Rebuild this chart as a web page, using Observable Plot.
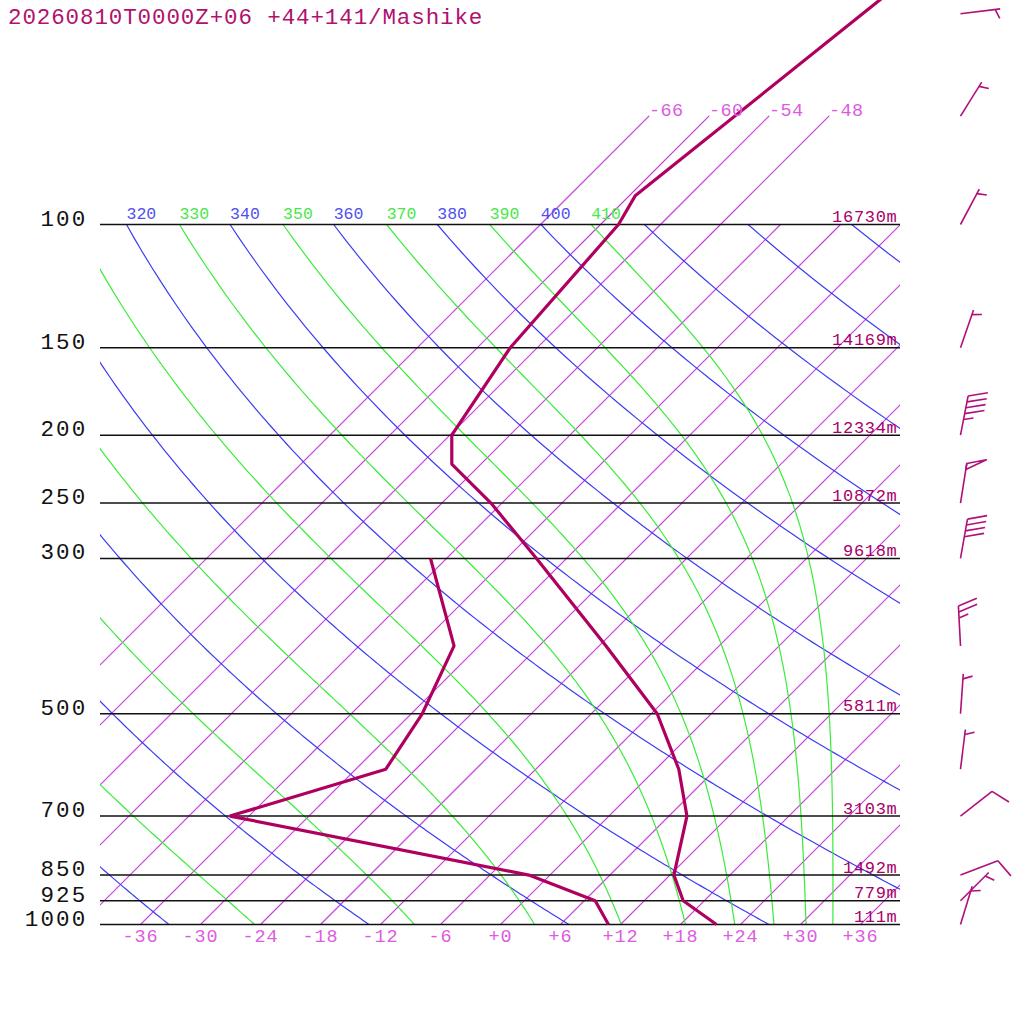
<!DOCTYPE html>
<html><head><meta charset="utf-8">
<script src="https://cdn.jsdelivr.net/npm/d3@7"></script>
<script src="https://cdn.jsdelivr.net/npm/@observablehq/plot@0.6"></script>
<style>
html,body{margin:0;padding:0;background:#fff;overflow:hidden}
#wrap{position:relative;width:1024px;height:1024px}
#title{position:absolute;left:8px;top:6px;font-family:"Liberation Mono",monospace;font-size:22.5px;line-height:1.133;letter-spacing:0.9px;color:#b0106e;white-space:pre;z-index:2}
#chart{position:absolute;left:0;top:0}
</style></head><body>
<div id="wrap"><div id="title">20260810T0000Z+06 +44+141/Mashike</div><div id="chart"></div></div>
<script>
// ---------------- data ----------------
const levels  = [100, 150, 200, 250, 300, 500, 700, 850, 925, 1000];
const heights = [16730, 14169, 12334, 10872, 9618, 5811, 3103, 1492, 779, 111];

const tempP = [1000, 925, 850, 700, 600, 500, 400, 300, 250, 220, 200, 150, 100, 91, 30];
const tempT = [21.6, 15.9, 12.4, 7.8, 2.3, -5.4, -17.3, -33.0, -43.1, -50.9, -53.8, -56.7, -58.2, -59.4, -51.0];

const dewP = [1000, 925, 850, 700, 600, 500, 400, 300];
const dewT = [10.8, 7.1, -2.1, -37.9, -27.0, -28.9, -32.5, -43.6];

const windP   = [50, 70, 100, 150, 200, 250, 300, 400, 500, 600, 700, 850, 925, 1000];
const windDir = [83, 32, 28, 19, 11, 9, 10, 357, 4, 7, 52, 69, 45, 17];
const windSpd = [5, 5, 5, 5, 45, 50, 40, 25, 5, 5, 10, 10, 5, 5];

const isoT       = [-66, -60, -54, -48, -42, -36, -30, -24, -18, -12, -6, 0, 6, 12, 18, 24, 30, 36];
const isoTopT    = [-66, -60, -54, -48];
const tempTicks  = [-36, -30, -24, -18, -12, -6, 0, 6, 12, 18, 24, 30, 36];
const thetaDry   = [240, 260, 280, 300, 320, 340, 360, 380, 400, 420, 440, 460];
const thetaMoist = [250, 270, 290, 310, 330, 350, 370, 390, 410];
const thetaLabels = [320, 330, 340, 350, 360, 370, 380, 390, 400, 410];

// ---------------- diagram geometry / thermodynamics ----------------
const SKEW = 70;   // degrees of skew per decade of pressure (45-degree isotherms)
const skewX = (T, p) => T + SKEW * Math.log10(1000 / p);
const K = 273.15, KAPPA = 0.2857;
const dryT = (th, p) => th * Math.pow(p / 1000, KAPPA) - K;
const es = Tc => 6.112 * Math.exp(17.67 * Tc / (Tc + 243.5));
function thetaEsat(TK, p) {
  const e = es(TK - K), r = 622 * e / (p - e);
  return TK * Math.pow(1000 / p, 0.2854 * (1 - 0.00028 * r)) *
         Math.exp((3.376 / TK - 0.00254) * r * (1 + 0.00081 * r));
}
function moistT(the, p) {
  let lo = 150, hi = 345;
  while (es(hi - K) > 0.4 * p) hi -= 1;
  for (let i = 0; i < 60; i++) {
    const m = (lo + hi) / 2;
    if (thetaEsat(m, p) > the) hi = m; else lo = m;
  }
  return (lo + hi) / 2 - K;
}
const curveP = d3.range(1000, 99, -5);

const isoLines = isoT.flatMap(T => [1000, 100].map(p => ({T, p, x: skewX(T, p)})));
const isoTop = isoTopT.flatMap(T => [100, 70].map(p => ({T, p, x: skewX(T, p)})));
const dryLines = thetaDry.flatMap(th => curveP.map(p => ({th, p, x: skewX(dryT(th, p), p)})));
const moistLines = thetaMoist.flatMap(th => curveP.map(p => ({th, p, x: skewX(moistT(th, p), p)})));
const thetaLab = thetaLabels.map(th => ({th, x: th % 20 === 0 ? skewX(dryT(th, 100), 100) : skewX(moistT(th, 100), 100)}));

const temp = tempP.map((p, i) => ({p, x: skewX(tempT[i], p)}));
const dew = dewP.map((p, i) => ({p, x: skewX(dewT[i], p)}));

// ---------------- wind barbs ----------------
const BARB_X = 46;                 // barb column (skewed units)
const PX_X = 10, PX_DEC = 700;     // pixels per degree / per pressure decade
const toData = (p0, dx, dy) => [BARB_X + dx / PX_X, p0 * Math.pow(10, dy / PX_DEC)];
const barbSegs = [], pennants = [];
windP.forEach((p0, i) => {
  const a = windDir[i] * Math.PI / 180, al = 70 * Math.PI / 180;
  const u = [Math.sin(a), -Math.cos(a)];
  const b = [u[0] * Math.cos(al) - u[1] * Math.sin(al), u[0] * Math.sin(al) + u[1] * Math.cos(al)];
  const L = 40, FULL = 20, HALF = 10, GAP = 6;
  const seg = (ax, ay, bx, by) => {
    const [x1, y1] = toData(p0, ax, ay), [x2, y2] = toData(p0, bx, by);
    barbSegs.push({x1, y1, x2, y2});
  };
  seg(0, 0, L * u[0], L * u[1]);
  let s = Math.round(windSpd[i] / 5) * 5;
  const nP = Math.floor(s / 50); s -= nP * 50;
  const nF = Math.floor(s / 10); s -= nF * 10;
  const nH = s >= 5 ? 1 : 0;
  let pos = L;
  for (let k = 0; k < nP; k++) {
    const pts = [[pos * u[0], pos * u[1]], [pos * u[0] + FULL * b[0], pos * u[1] + FULL * b[1]],
                 [(pos - GAP) * u[0], (pos - GAP) * u[1]], [pos * u[0], pos * u[1]]];
    pts.forEach(([dx, dy]) => { const [x, y] = toData(p0, dx, dy); pennants.push({id: i * 10 + k, x, y}); });
    pos -= GAP + 1;
  }
  for (let k = 0; k < nF; k++) {
    seg(pos * u[0], pos * u[1], pos * u[0] + FULL * b[0], pos * u[1] + FULL * b[1]);
    pos -= GAP;
  }
  if (nH) {
    if (nP + nF === 0) pos = L - 5;
    seg(pos * u[0], pos * u[1], pos * u[0] + HALF * b[0], pos * u[1] + HALF * b[1]);
  }
});

// ---------------- colours ----------------
const C_ISO = "#c83cdc", C_ISOLAB = "#dc5ce0", C_DRY = "#3c3cf4", C_MOIST = "#3aec3a";
const C_SND = "#b0005f", C_HGT = "#a8006a", C_BARB = "#b0107a";
const FONT = "Liberation Mono";
const signed = d => (d < 0 ? "-" : "+") + Math.abs(d);

const chart = Plot.plot({
  width: 1024, height: 1024,
  marginLeft: 100, marginRight: 124, marginTop: 224, marginBottom: 100,
  x: {domain: [-40, 40], axis: null},
  y: {type: "log", domain: [1000, 100], axis: null},
  marks: [
    Plot.line(isoLines, {x: "x", y: "p", z: "T", stroke: C_ISO, strokeWidth: 1.2, clip: true}),
    Plot.line(isoTop, {x: "x", y: "p", z: "T", stroke: C_ISO, strokeWidth: 1.2}),
    Plot.line(dryLines, {x: "x", y: "p", z: "th", stroke: C_DRY, strokeWidth: 1.2, clip: true}),
    Plot.line(moistLines, {x: "x", y: "p", z: "th", stroke: C_MOIST, strokeWidth: 1.2, clip: true}),
    Plot.ruleY(levels, {stroke: "#111", strokeWidth: 1.5}),
    Plot.line(dew, {x: "x", y: "p", stroke: C_SND, strokeWidth: 3.2, strokeLinejoin: "miter", strokeLinecap: "butt"}),
    Plot.line(temp, {x: "x", y: "p", stroke: C_SND, strokeWidth: 3.2, strokeLinejoin: "miter", strokeLinecap: "butt"}),
    // text marks (order matters for letter spacing below)
    Plot.text(tempTicks, {x: d => d, frameAnchor: "bottom", dy: 17, text: signed, fill: C_ISOLAB, fontSize: 18.5, fontFamily: FONT}),
    Plot.text(levels, {y: d => d, frameAnchor: "left", textAnchor: "end", dx: -13, lineAnchor: "bottom", dy: 1, text: d => String(d), fill: "#111", fontSize: 22.5, fontFamily: FONT}),
    Plot.text(levels, {y: d => d, frameAnchor: "right", textAnchor: "end", dx: -3, lineAnchor: "bottom", dy: -2.5, text: (d, i) => heights[i] + "m", fill: C_HGT, fontSize: 17, fontFamily: FONT}),
    Plot.text(thetaLab, {x: "x", y: () => 100, textAnchor: "start", lineAnchor: "bottom", dy: -5.5, text: d => String(d.th), fill: d => d.th % 20 === 0 ? "#5050f0" : "#48e848", fontSize: 16.5, fontFamily: FONT}),
    Plot.text(isoTopT, {x: d => skewX(d, 70), y: () => 70, textAnchor: "start", lineAnchor: "bottom", text: signed, fill: C_ISOLAB, fontSize: 18.5, fontFamily: FONT}),
    // wind barbs
    Plot.link(barbSegs, {x1: "x1", y1: "y1", x2: "x2", y2: "y2", stroke: C_BARB, strokeWidth: 1.6}),
    Plot.line(pennants, {x: "x", y: "y", z: "id", stroke: C_BARB, strokeWidth: 1.6})
  ]
});
document.getElementById("chart").appendChild(chart);
const spacings = [0.9, 2.2, 0.7, 0, 0.4];
chart.querySelectorAll('g[aria-label="text"]').forEach((g, i) => {
  if (spacings[i] != null) g.style.letterSpacing = spacings[i] + "px";
});
</script>
</body></html>
